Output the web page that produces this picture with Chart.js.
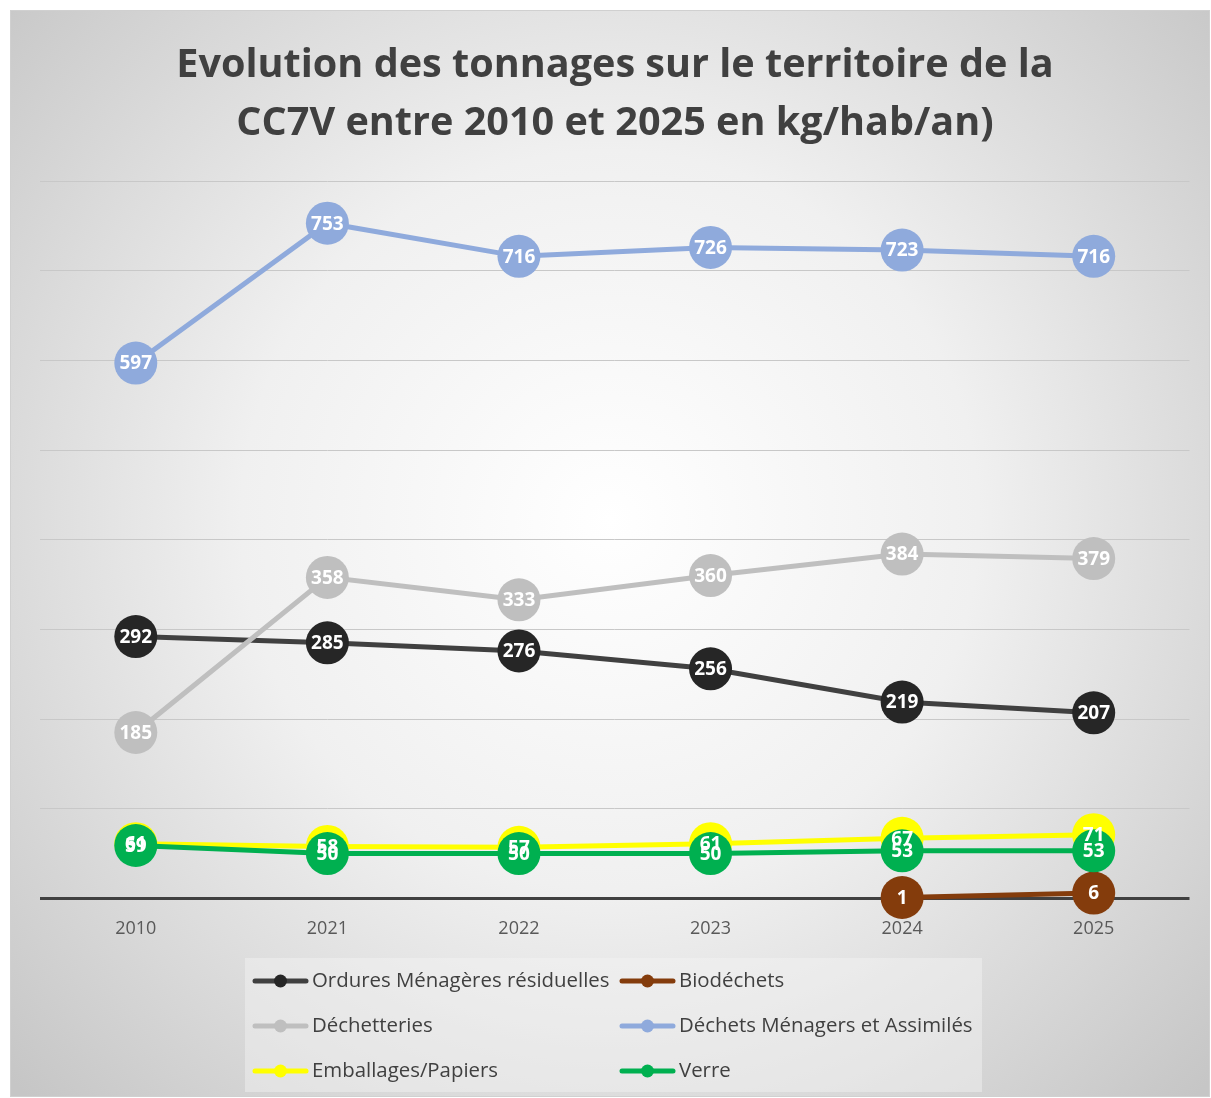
<!DOCTYPE html>
<html>
<head>
<meta charset="utf-8">
<script src="https://cdn.jsdelivr.net/npm/chart.js@4.4.1/dist/chart.umd.min.js"></script>
<style>
html, body { margin: 0; padding: 0; background: #fff; }
</style>
</head>
<body>
<canvas id="tonnageChart" width="1211" height="1098"></canvas>
<script>
// DATA
const years = ['2010', '2021', '2022', '2023', '2024', '2025'];
const omr = [292, 285, 276, 256, 219, 207];
const biodechets = [null, null, null, null, 1, 6];
const dechetteries = [185, 358, 333, 360, 384, 379];
const dma = [597, 753, 716, 726, 723, 716];
const emballages = [61, 58, 57, 61, 67, 71];
const verre = [59, 50, 50, 50, 53, 53];

const seriesNames = [
  'Ordures Ménagères résiduelles',
  'Biodéchets',
  'Déchetteries',
  'Déchets Ménagers et Assimilés',
  'Emballages/Papiers',
  'Verre'
];
const seriesColors = ['#404040', '#843c0c', '#bfbfbf', '#8faadc', '#ffff00', '#00b050'];
const pointColors = ['#262626', '#843c0c', '#bfbfbf', '#8faadc', '#ffff00', '#00b050'];
const seriesValues = [omr, biodechets, dechetteries, dma, emballages, verre];

const FONT = "'Open Sans', 'DejaVu Sans', sans-serif";

// background + frame
const bgPlugin = {
  id: 'bg',
  beforeDraw(chart) {
    const c = chart.ctx;
    c.save();
    c.fillStyle = '#ffffff';
    c.fillRect(0, 0, chart.width, chart.height);
    const g = c.createRadialGradient(610, 520, 0, 610, 520, 820);
    g.addColorStop(0, '#ffffff');
    g.addColorStop(0.45, '#f0f0f0');
    g.addColorStop(1, '#c6c6c6');
    c.fillStyle = g;
    c.fillRect(10, 10, 1200, 1087);
    c.strokeStyle = '#d0d0d0';
    c.lineWidth = 1;
    c.strokeRect(10.5, 10.5, 1199, 1086);
    c.restore();
  }
};

// labels inside the points
const labelPlugin = {
  id: 'pointLabels',
  afterDatasetsDraw(chart) {
    const c = chart.ctx;
    c.save();
    c.font = 'bold 19px ' + FONT;
    c.fillStyle = '#ffffff';
    c.textAlign = 'center';
    c.textBaseline = 'middle';
    chart.data.datasets.forEach((ds, i) => {
      const meta = chart.getDatasetMeta(i);
      meta.data.forEach((pt, j) => {
        const v = ds.data[j];
        if (v === null || v === undefined) return;
        c.fillText(String(v), pt.x, pt.y + 1);
      });
    });
    c.restore();
  }
};

// legend in two columns
const legendPlugin = {
  id: 'twoColLegend',
  afterDraw(chart) {
    const c = chart.ctx;
    c.save();
    c.fillStyle = 'rgba(245,245,245,0.45)';
    c.fillRect(245, 958, 737, 134);
    const cols = [253, 620];
    const rows = [981, 1026, 1071];
    chart.data.datasets.forEach((ds, i) => {
      const x = cols[i % 2];
      const y = rows[Math.floor(i / 2)];
      c.strokeStyle = seriesColors[i];
      c.lineWidth = 5;
      c.lineCap = 'round';
      c.beginPath();
      c.moveTo(x + 2, y);
      c.lineTo(x + 53, y);
      c.stroke();
      c.fillStyle = pointColors[i];
      c.beginPath();
      c.arc(x + 27.5, y, 6.5, 0, Math.PI * 2);
      c.fill();
      c.fillStyle = '#404040';
      c.font = '20.4px ' + FONT;
      c.textAlign = 'left';
      c.textBaseline = 'middle';
      c.fillText(ds.label, x + 59, y);
    });
    c.restore();
  }
};

const datasets = seriesNames.map((name, i) => ({
  label: name,
  data: seriesValues[i],
  borderColor: seriesColors[i],
  backgroundColor: pointColors[i],
  pointBackgroundColor: pointColors[i],
  pointBorderColor: pointColors[i],
  pointBorderWidth: 0,
  pointRadius: 21.5,
  borderWidth: 5,
  tension: 0,
  spanGaps: false,
  clip: false,
  order: seriesNames.length - i
}));

const config = {
  type: 'line',
  data: { labels: years, datasets: datasets },
  options: {
    responsive: false,
    animation: false,
    layout: { padding: { left: 40, right: 21, top: 0, bottom: 138 } },
    plugins: {
      legend: { display: false },
      tooltip: { enabled: false },
      title: {
        display: true,
        text: ['Evolution des tonnages sur le territoire de la', 'CC7V entre 2010 et 2025 en kg/hab/an)'],
        color: '#404040',
        font: { family: FONT, size: 39.6, weight: 'bold', lineHeight: 1.465 },
        padding: { top: 37, bottom: 28 }
      }
    },
    scales: {
      x: {
        offset: true,
        grid: { display: false, drawTicks: false },
        border: { display: false },
        ticks: { color: '#595959', font: { family: FONT, size: 18 }, padding: 20 }
      },
      y: {
        min: 0,
        max: 800,
        ticks: { display: false, stepSize: 100 },
        border: { display: false },
        grid: {
          drawTicks: false,
          color: (ctx) => ctx.tick && ctx.tick.value === 0 ? '#404040' : '#c8c8c8',
          lineWidth: (ctx) => ctx.tick && ctx.tick.value === 0 ? 3 : 1
        }
      }
    }
  },
  plugins: [bgPlugin, labelPlugin, legendPlugin]
};

const tonnageChart = new Chart(document.getElementById('tonnageChart'), config);
</script>
</body>
</html>
